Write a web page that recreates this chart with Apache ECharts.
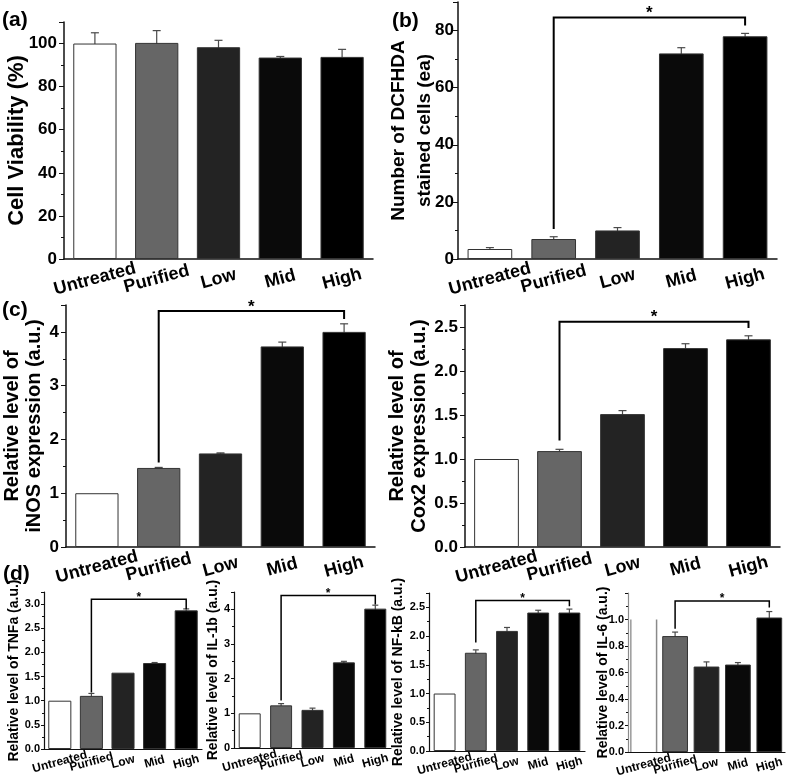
<!DOCTYPE html>
<html>
<head>
<meta charset="utf-8">
<script src="https://cdn.jsdelivr.net/npm/echarts@6/dist/echarts.min.js"></script>
<style>
html,body{margin:0;padding:0;background:#fff;}
#chart{width:787px;height:779px;}
</style>
</head>
<body>
<div id="chart"></div>
<script>
// ---------------- data ----------------
const categories = ['Untreated', 'Purified', 'Low', 'Mid', 'High'];

const viabilityValues = [100, 100.3, 98.3, 93.5, 93.8];
const viabilityErrors = [5, 5.7, 3.2, 0.5, 3.5];

const dcfhdaValues = [3.5, 7, 10, 72, 78];
const dcfhdaErrors = [0.5, 0.8, 1.0, 2, 1];
const dcfhdaBracket = [10.5, 84.6, 81.8];

const inosValues = [1.0, 1.47, 1.74, 3.73, 4.0];
const inosErrors = [0, 0.01, 0.01, 0.08, 0.15];
const inosBracket = [1.57, 4.39, 4.24];

const cox2Values = [1.0, 1.09, 1.51, 2.26, 2.36];
const cox2Errors = [0, 0.02, 0.04, 0.05, 0.04];
const cox2Bracket = [1.21, 2.56, 2.49];

const tnfaValues = [1.0, 1.1, 1.58, 1.78, 2.87];
const tnfaErrors = [0, 0.05, 0, 0.01, 0.03];
const tnfaBracket = [1.17, 3.1, 2.9];

const il1bValues = [1.0, 1.23, 1.1, 2.47, 4.02];
const il1bErrors = [0, 0.05, 0.05, 0.03, 0.1];
const il1bBracket = [1.37, 4.4, 4.14];

const nfkbValues = [1.0, 1.71, 2.09, 2.41, 2.41];
const nfkbErrors = [0, 0.05, 0.06, 0.04, 0.06];
const nfkbBracket = [1.89, 2.62, 2.52];

const il6Values = [1.0, 0.875, 0.645, 0.66, 1.015];
const il6Errors = [0, 0.03, 0.035, 0.015, 0.045];
const il6Bracket = [0.93, 1.14, 1.09];

const bracketFrom = 'Purified';
const bracketTo = 'High';
const starText = '*';

// ---------------- styles ----------------
const FONT = "'Liberation Sans', Arial, Helvetica, sans-serif";
const barColors = ['#ffffff', '#666666', '#232323', '#0a0a0a', '#000000'];
const barBorder = '#333333';

const panels = [
  {label: '(a)', labelPos: [2, 10], values: viabilityValues, errors: viabilityErrors, bracket: null,
   grid: {left: 64, top: 22, width: 309, height: 237}, max: 110, interval: 20, dec: 0,
   name: 'Cell Viability (%)', nameSize: 22, nameLH: 26, nameGap: 34, big: true, barW: '70%'},
  {label: '(b)', labelPos: [392, 11], values: dcfhdaValues, errors: dcfhdaErrors, bracket: dcfhdaBracket,
   grid: {left: 458, top: 2, width: 319, height: 257}, max: 90, interval: 20, dec: 0, labelMargin: 4,
   nameLines: ['Number of DCFHDA', 'stained cells (ea)'], nameLineX: [399, 425], nameSize: 19, big: true, barW: '70%'},
  {label: '(c)', labelPos: [2, 300], values: inosValues, errors: inosErrors, bracket: inosBracket,
   grid: {left: 64, top: 305, width: 311, height: 242}, max: 4.5, interval: 1, dec: 0,
   name: 'Relative level of\niNOS expression (a.u.)', nameSize: 20, nameLH: 22, nameGap: 21, big: true, barW: '70%'},
  {label: null, values: cox2Values, errors: cox2Errors, bracket: cox2Bracket,
   grid: {left: 465, top: 305, width: 315, height: 242}, max: 2.75, interval: 0.5, dec: 1,
   name: 'Relative level of\nCox2 expression (a.u.)', nameSize: 20, nameLH: 22, nameGap: 35, big: true, barW: '71%'},
  {label: '(d)', labelPos: [3, 564], values: tnfaValues, errors: tnfaErrors, bracket: tnfaBracket,
   grid: {left: 44, top: 592, width: 158, height: 157}, max: 3.25, interval: 0.5, dec: 1,
   name: 'Relative level of TNFa (a.u.)', nameSize: 14, nameLH: 16, nameGap: 22, big: false, barW: '73%'},
  {label: null, values: il1bValues, errors: il1bErrors, bracket: il1bBracket,
   grid: {left: 234, top: 592, width: 157, height: 156}, max: 4.5, interval: 1, dec: 0,
   name: 'Relative level of IL-1b (a.u.)', nameSize: 14, nameLH: 16, nameGap: 13, big: false, barW: '70%'},
  {label: null, values: nfkbValues, errors: nfkbErrors, bracket: nfkbBracket,
   grid: {left: 429, top: 593, width: 156, height: 158}, max: 2.75, interval: 0.5, dec: 1,
   name: 'Relative level of NF-kB (a.u.)', nameSize: 14, nameLH: 16, nameGap: 23, big: false, barW: '70%'},
  {label: null, values: il6Values, errors: il6Errors, bracket: il6Bracket,
   grid: {left: 628, top: 593, width: 157, height: 159}, max: 1.2, interval: 0.2, dec: 1,
   name: 'Relative level of IL-6 (a.u.)', nameSize: 14, nameLH: 16, nameGap: 17, big: false, barW: '82%',
   openFirst: true, yAxisColor: '#8a8a8a'}
];

const grids = [], xAxes = [], yAxes = [], series = [], graphics = [];

panels.forEach((p, k) => {
  const big = p.big;
  grids.push(Object.assign({containLabel: false}, p.grid));
  xAxes.push({
    type: 'category', gridIndex: k, data: categories, boundaryGap: true,
    axisLine: {lineStyle: {color: '#111', width: big ? 1.5 : 1.2}},
    axisTick: {alignWithLabel: true, length: big ? 5 : 3, lineStyle: {color: '#111'}},
    axisLabel: {
      rotate: 15, align: 'center', verticalAlign: 'middle', margin: big ? 20 : 13,
      fontFamily: FONT, fontWeight: 'bold', fontSize: big ? 18 : 12, color: '#000', interval: 0,
      hideOverlap: false
    },
    splitLine: {show: false}
  });
  const yAxis = {
    type: 'value', gridIndex: k, min: 0, max: p.max, interval: p.interval,
    axisLine: {show: true, lineStyle: {color: p.yAxisColor || '#111', width: big ? 1.5 : 1.2}},
    axisTick: {show: true, length: big ? 5 : 3, lineStyle: {color: '#111'}},
    minorTick: {show: true, splitNumber: 2, length: big ? 3 : 2, lineStyle: {color: '#111'}},
    splitLine: {show: false},
    axisLabel: {
      showMaxLabel: false, margin: p.labelMargin != null ? p.labelMargin : (big ? 7 : 4),
      fontFamily: FONT, fontWeight: 'bold', fontSize: big ? 17 : 11, color: '#000',
      formatter: v => (Math.abs(v - p.max) < 1e-9 && (p.max / p.interval) % 1 !== 0) ? '' : v.toFixed(p.dec)
    }
  };
  if (p.name) {
    Object.assign(yAxis, {
      name: p.name, nameLocation: 'middle', nameRotate: 90, nameGap: p.nameGap,
      nameMoveOverlap: false,
      nameTextStyle: {fontFamily: FONT, fontWeight: 'bold', fontSize: p.nameSize, lineHeight: p.nameLH, color: '#000'}
    });
  }
  yAxes.push(yAxis);

  if (p.nameLines) {
    const cy = p.grid.top + p.grid.height / 2;
    p.nameLines.forEach((txt, j) => {
      graphics.push({
        type: 'text', x: p.nameLineX[j], y: cy, rotation: Math.PI / 2,
        style: {text: txt, align: 'center', verticalAlign: 'middle',
                fontFamily: FONT, fontWeight: 'bold', fontSize: p.nameSize, fill: '#000'}
      });
    });
  }

  // bars
  series.push({
    type: 'bar', xAxisIndex: k, yAxisIndex: k, barWidth: p.barW,
    data: p.values.map((v, i) => ({
      value: v,
      itemStyle: (p.openFirst && i === 0)
        ? {color: 'rgba(255,255,255,0)', borderWidth: 0}
        : {color: barColors[i], borderColor: barBorder, borderWidth: 1}
    })),
    animation: false
  });

  // open (side-lines only) bar for IL-6 untreated
  if (p.openFirst) {
    const ratio = parseFloat(p.barW) / 100;
    series.push({
      type: 'custom', xAxisIndex: k, yAxisIndex: k, animation: false,
      data: [[0, p.values[0]]],
      encode: {x: 0, y: 1},
      renderItem: (params, api) => {
        const idx = api.value(0), v = api.value(1);
        const top = api.coord([idx, v]), base = api.coord([idx, 0]);
        const hw = api.size([1, 0])[0] * ratio / 2;
        return {type: 'group', children: [
          {type: 'line', shape: {x1: top[0] - hw, y1: top[1], x2: base[0] - hw, y2: base[1]}, style: {stroke: '#9a9a9a', lineWidth: 1.5}},
          {type: 'line', shape: {x1: top[0] + hw, y1: top[1], x2: base[0] + hw, y2: base[1]}, style: {stroke: '#8a8a8a', lineWidth: 1.5}}
        ]};
      }
    });
  }

  // error bars
  const capHalf = big ? 4 : 3;
  series.push({
    type: 'custom', xAxisIndex: k, yAxisIndex: k, animation: false,
    data: p.values.map((v, i) => [i, v, p.errors[i]]),
    encode: {x: 0, y: 1},
    renderItem: (params, api) => {
      const i = api.value(0), v = api.value(1), e = api.value(2);
      if (!e) return null;
      const t = api.coord([i, v + e]), b = api.coord([i, v - e]);
      const st = {stroke: '#4a4a4a', lineWidth: 1.2};
      return {type: 'group', children: [
        {type: 'line', shape: {x1: t[0], y1: t[1], x2: b[0], y2: b[1]}, style: st},
        {type: 'line', shape: {x1: t[0] - capHalf, y1: t[1], x2: t[0] + capHalf, y2: t[1]}, style: st},
        {type: 'line', shape: {x1: b[0] - capHalf, y1: b[1], x2: b[0] + capHalf, y2: b[1]}, style: st}
      ]};
    }
  });

  // significance bracket
  if (p.bracket) {
    const i1 = categories.indexOf(bracketFrom), i2 = categories.indexOf(bracketTo);
    series.push({
      type: 'custom', xAxisIndex: k, yAxisIndex: k, animation: false,
      data: [[i1, i2, p.bracket[0], p.bracket[1], p.bracket[2]]],
      encode: {x: [0, 1], y: [2, 3, 4]},
      renderItem: (params, api) => {
        const a = api.value(0), b = api.value(1);
        const p1 = api.coord([a, api.value(2)]);
        const p2 = api.coord([a, api.value(3)]);
        const p3 = api.coord([b, api.value(3)]);
        const p4 = api.coord([b, api.value(4)]);
        const mx = (p2[0] + p3[0]) / 2;
        return {type: 'group', children: [
          {type: 'polyline', shape: {points: [p1, p2, p3, p4]},
           style: {stroke: '#000', lineWidth: big ? 2 : 1.5, fill: null}},
          {type: 'text', style: {
            x: mx, y: p2[1] - (big ? 4 : 2), text: starText, align: 'center', verticalAlign: 'middle',
            fontFamily: FONT, fontWeight: 'bold', fontSize: big ? 17 : 12, fill: '#000'}}
        ]};
      }
    });
  }

  if (p.label) {
    graphics.push({
      type: 'text', left: p.labelPos[0], top: p.labelPos[1],
      style: {text: p.label, fontFamily: FONT, fontWeight: 'bold', fontSize: 21, fill: '#000'}
    });
  }
});

const chart = echarts.init(document.getElementById('chart'), null, {renderer: 'canvas'});
chart.setOption({
  backgroundColor: '#fff',
  animation: false,
  grid: grids,
  xAxis: xAxes,
  yAxis: yAxes,
  series: series,
  graphic: graphics
});
</script>
</body>
</html>
